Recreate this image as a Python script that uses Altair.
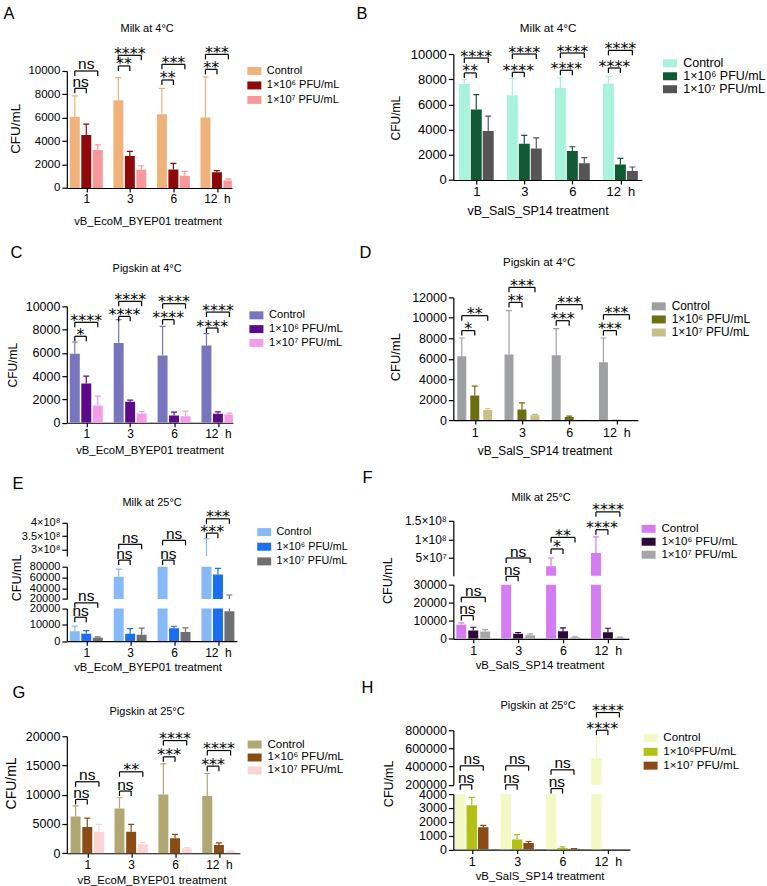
import json
import altair as alt
import pandas as pd

FONT = "Liberation Sans, Arial, Helvetica, sans-serif"
STAR_FONT = "DejaVu Sans, Verdana, sans-serif"

# ------------------------------------------------------------------ data
time_labels = ["1", "3", "6", "12\u00a0\u00a0h"]
doses = ["Control", "1×10⁶ PFU/mL", "1×10⁷ PFU/mL"]
doses_h = ["Control", "1×10⁶PFU/mL", "1×10⁷ PFU/mL"]

ticks_10k = [0, 2000, 4000, 6000, 8000, 10000]
ticks_10k_lab = ["0", "2000", "4000", "6000", "8000", "10000"]
ticks_12k = [0, 2000, 4000, 6000, 8000, 10000, 12000]
ticks_12k_lab = ["0", "2000", "4000", "6000", "8000", "10000", "12000"]
ticks_20k = [0, 5000, 10000, 15000, 20000]
ticks_20k_lab = ["0", "5000", "10000", "15000", "20000"]

# A  Milk at 4 °C, vB_EcoM_BYEP01
a_ctrl, a_ctrl_sd = [6080, 7500, 6300, 6020], [1790, 1930, 2220, 3470]
a_e6, a_e6_sd = [4520, 2730, 1590, 1340], [940, 400, 510, 150]
a_e7, a_e7_sd = [3240, 1560, 1050, 630], [450, 340, 370, 140]
a_sig = [(0, 1, 8520, "ns"), (0, 2, 10000, "ns"), (1, 1, 10430, "**"), (1, 2, 11340, "****"),
         (2, 1, 9230, "**"), (2, 2, 10570, "***"), (3, 1, 10140, "**"), (3, 2, 11420, "***")]

# B  Milk at 4 °C, vB_SalS_SP14
b_ctrl, b_ctrl_sd = [7620, 6730, 7310, 7650], [350, 1320, 790, 580]
b_e6, b_e6_sd = [5590, 2880, 2300, 1240], [1190, 660, 340, 470]
b_e7, b_e7_sd = [3880, 2510, 1320, 710], [1190, 840, 450, 320]
b_sig = [(0, 1, 8500, "**"), (0, 2, 9680, "****"), (1, 1, 8550, "****"), (1, 2, 10000, "****"),
         (2, 1, 8710, "****"), (2, 2, 10080, "****"), (3, 1, 8890, "****"), (3, 2, 10290, "****")]

# C  Pigskin at 4 °C, vB_EcoM_BYEP01
c_ctrl, c_ctrl_sd = [5940, 6860, 5770, 6630], [1000, 2000, 2510, 1030]
c_e6, c_e6_sd = [3370, 1800, 630, 770], [630, 140, 290, 170]
c_e7, c_e7_sd = [1490, 800, 570, 710], [800, 170, 430, 120]
c_sig = [(0, 1, 7430, "*"), (0, 2, 8630, "****"), (1, 1, 9140, "****"), (1, 2, 10430, "****"),
         (2, 1, 8860, "****"), (2, 2, 10230, "****"), (3, 1, 8140, "****"), (3, 2, 9510, "****")]

# D  Pigskin at 4 °C, vB_SalS_SP14
d_ctrl, d_ctrl_sd = [6240, 6410, 6340, 5660], [1790, 4290, 2600, 2370]
d_e6, d_e6_sd = [2410, 1040, 290, 35], [910, 650, 100, 0]
d_e7, d_e7_sd = [980, 460, 35, 10], [130, 100, 0, 0]
d_sig = [(0, 1, 8750, "*"), (0, 2, 10210, "**"), (1, 1, 11510, "**"), (1, 2, 12980, "***"),
         (2, 1, 9720, "***"), (2, 2, 11290, "***"), (3, 1, 8750, "***"), (3, 2, 10310, "***")]

# E  Milk at 25 °C, vB_EcoM_BYEP01 (broken axis: 0-2e4 | 2e4-8e4 | 2.75e8-4e8)
e_ctrl, e_ctrl_sd = [6100, 61500, 200000, 1.2e8], [3100, 14000, 60000, 2.2e8]
e_e6, e_e6_sd = [4500, 4500, 7950, 65700], [2000, 3250, 1200, 11200]
e_e7, e_e7_sd = [2100, 3900, 5700, 18400], [500, 4100, 2450, 9000]
e_sig = [(0, 1, 14700, "ns", 2), (0, 2, 23500, "ns", 2), (1, 1, 92200, "ns", 1), (1, 2, 3.19e8, "ns", 0),
         (2, 1, 92200, "ns", 1), (2, 2, 3.34e8, "ns", 0), (3, 1, 3.61e8, "***", 0), (3, 2, 4.15e8, "***", 0)]
e_top_ticks, e_top_lab = [3e8, 3.5e8, 4e8], ["3×10⁸", "3.5×10⁸", "4×10⁸"]
e_mid_ticks, e_mid_lab = [20000, 40000, 60000, 80000], ["20000", "40000", "60000", "80000"]
e_bot_ticks, e_bot_lab = [0, 10000, 20000], ["0", "10000", "20000"]

# F  Milk at 25 °C, vB_SalS_SP14 (broken axis: 0-3e4 | up to 1.5e8)
f_ctrl, f_ctrl_sd = [7740, 35000, 2.76e7, 6.35e7], [1100, 2000, 2.24e7, 4.35e7]
f_e6, f_e6_sd = [4590, 2760, 4200, 3650], [1820, 720, 1850, 2210]
f_e7, f_e7_sd = [4030, 2000, 720, 550], [1100, 760, 380, 370]
f_sig = [(0, 1, 12870, "ns", 1), (0, 2, 22990, "ns", 1), (1, 1, 34590, "ns", 1), (1, 2, 5.0e7, "ns", 0),
         (2, 1, 7.43e7, "*", 0), (2, 2, 1.054e8, "**", 0), (3, 1, 1.26e8, "****", 0), (3, 2, 1.74e8, "****", 0)]
f_top_ticks, f_top_lab = [5e7, 1e8, 1.5e8], ["5×10⁷", "1×10⁸", "1.5×10⁸"]
f_bot_ticks, f_bot_lab = [0, 10000, 20000, 30000], ["0", "10000", "20000", "30000"]

# G  Pigskin at 25 °C, vB_EcoM_BYEP01
g_ctrl, g_ctrl_sd = [6300, 7670, 10060, 9770], [1800, 1820, 5230, 3860]
g_e6, g_e6_sd = [4490, 3690, 2560, 1420], [1500, 1250, 680, 340]
g_e7, g_e7_sd = [3690, 1530, 800, 280], [1250, 290, 170, 110]
g_sig = [(0, 1, 9200, "ns"), (0, 2, 12220, "ns"), (1, 1, 10630, "ns"), (1, 2, 13920, "**"),
         (2, 1, 16480, "***"), (2, 2, 19260, "****"), (3, 1, 14890, "***"), (3, 2, 17560, "****")]

# H  Pigskin at 25 °C, vB_SalS_SP14 (broken axis: 0-4000 | 2e5-8e5)
h_ctrl, h_ctrl_sd = [4600, 4400, 4200, 489000], [500, 500, 500, 231000]
h_e6, h_e6_sd = [3190, 720, 120, 30], [580, 360, 80, 0]
h_e7, h_e7_sd = [1610, 480, 50, 10], [140, 100, 20, 0]
h_sig = [(0, 1, 200000, "ns", 0), (0, 2, 409000, "ns", 0), (1, 1, 200000, "ns", 0), (1, 2, 409000, "ns", 0),
         (2, 1, 159000, "ns", 0), (2, 2, 365000, "ns", 0), (3, 1, 800000, "****", 0), (3, 2, 995000, "****", 0)]
h_top_ticks, h_top_lab = [200000, 400000, 600000, 800000], ["200000", "400000", "600000", "800000"]
h_bot_ticks, h_bot_lab = [0, 1000, 2000, 3000, 4000], ["0", "1000", "2000", "3000", "4000"]

# ------------------------------------------------------------------ panel styling / placement
LEFT_X, RIGHT_X = 66.5, 454.0      # plot-area left edge of each column

PANELS = {
    "A": dict(title="Milk at 4°C", xtitle="vB_EcoM_BYEP01 treatment", doses=doses,
              colors=["#EFB27A", "#8E0A0A", "#F9989A"],
              mean=[a_ctrl, a_e6, a_e7], sd=[a_ctrl_sd, a_e6_sd, a_e7_sd], sig=a_sig,
              segs=[dict(top=70, h=117.3, dom=(0, 10000), ticks=ticks_10k, labels=ticks_10k_lab)],
              geo=dict(left=LEFT_X, width=165.5, c0=86, c3=217, step=11.5, bw=10, tick_fs=11.5, x_fs=12,
                       leg=(247, 70, 13.5, 11), letter=(3, 18), title=(147, 28, 11),
                       ytitle=(16, 128, 13.5), xtitle=(148, 221, 11.3))),
    "B": dict(title="Milk at 4°C", xtitle="vB_SalS_SP14 treatment", doses=doses,
              colors=["#A9F2DB", "#0F5A33", "#555555"],
              mean=[b_ctrl, b_e6, b_e7], sd=[b_ctrl_sd, b_e6_sd, b_e7_sd], sig=b_sig,
              segs=[dict(top=52.7, h=126.3, dom=(0, 10000), ticks=ticks_10k, labels=ticks_10k_lab)],
              geo=dict(left=RIGHT_X, width=189, c0=477, c3=621.5, step=12, bw=11, tick_fs=13, x_fs=13,
                       leg=(663, 62, 12.5, 12.5), letter=(357, 18), title=(549, 27, 11.7),
                       ytitle=(397, 117, 12), xtitle=(539, 210, 12.5))),
    "C": dict(title="Pigskin at 4°C", xtitle="vB_EcoM_BYEP01 treatment", doses=doses,
              colors=["#7875BE", "#5A0A8A", "#F39DE8"],
              mean=[c_ctrl, c_e6, c_e7], sd=[c_ctrl_sd, c_e6_sd, c_e7_sd], sig=c_sig,
              segs=[dict(top=305, h=116.7, dom=(0, 10000), ticks=ticks_10k, labels=ticks_10k_lab)],
              geo=dict(left=LEFT_X, width=166.5, c0=86, c3=218, step=11.5, bw=10, tick_fs=12.5, x_fs=12,
                       leg=(249, 314, 13, 11.2), letter=(10, 257), title=(147, 268, 11),
                       ytitle=(13, 364, 12), xtitle=(150, 450, 11.3))),
    "D": dict(title="Pigskin at 4°C", xtitle="vB_SalS_SP14 treatment", doses=doses,
              colors=["#9FA0A3", "#6C6E12", "#C9C088"],
              mean=[d_ctrl, d_e6, d_e7], sd=[d_ctrl_sd, d_e6_sd, d_e7_sd], sig=d_sig,
              segs=[dict(top=296, h=123, dom=(0, 12000), ticks=ticks_12k, labels=ticks_12k_lab)],
              geo=dict(left=RIGHT_X, width=185, c0=475.5, c3=617.5, step=13, bw=9, tick_fs=12.5, x_fs=12.5,
                       leg=(652, 305, 12, 11.9), letter=(360, 257), title=(540, 262, 11.5),
                       ytitle=(397, 356, 13), xtitle=(546, 450, 11.9))),
    "E": dict(title="Milk at 25°C", xtitle="vB_EcoM_BYEP01 treatment", doses=doses,
              colors=["#86B9F6", "#1A6EF2", "#6F6F6F"],
              mean=[e_ctrl, e_e6, e_e7], sd=[e_ctrl_sd, e_e6_sd, e_e7_sd], sig=e_sig,
              segs=[dict(top=520.7, h=33.3, dom=(2.75e8, 4e8), ticks=e_top_ticks, labels=e_top_lab),
                    dict(top=563.3, h=32.4, dom=(20000, 80000), ticks=e_mid_ticks, labels=e_mid_lab),
                    dict(top=604, h=32.7, dom=(0, 20000), ticks=e_bot_ticks, labels=e_bot_lab)],
              geo=dict(left=LEFT_X, width=170.5, c0=86, c3=218, step=11.5, bw=10, tick_fs=11, x_fs=12,
                       leg=(257, 530, 13.5, 10.8), letter=(12, 487), title=(152, 501, 11),
                       ytitle=(17, 576, 12.6), xtitle=(148, 666, 11.3))),
    "F": dict(title="Milk at 25°C", xtitle="vB_SalS_SP14 treatment", doses=doses,
              colors=["#D67CF3", "#2C0B3B", "#A6A6A6"],
              mean=[f_ctrl, f_e6, f_e7], sd=[f_ctrl_sd, f_e6_sd, f_e7_sd], sig=f_sig,
              segs=[dict(top=520, h=55, dom=(2.5e6, 1.5e8), ticks=f_top_ticks, labels=f_top_lab),
                    dict(top=584, h=54.3, dom=(0, 30000), ticks=f_bot_ticks, labels=f_bot_lab)],
              geo=dict(left=RIGHT_X, width=176, c0=474, c3=609, step=12, bw=10, tick_fs=12, x_fs=12.5,
                       leg=(642, 528, 11.3, 11.6), letter=(363, 482), title=(542, 497, 11),
                       ytitle=(389, 580, 12.6), xtitle=(541, 666, 11.4))),
    "G": dict(title="Pigskin at 25°C", xtitle="vB_EcoM_BYEP01 treatment", doses=doses,
              colors=["#B1A772", "#8A4B15", "#FBD3D5"],
              mean=[g_ctrl, g_e6, g_e7], sd=[g_ctrl_sd, g_e6_sd, g_e7_sd], sig=g_sig,
              segs=[dict(top=731.7, h=117.3, dom=(0, 20000), ticks=ticks_20k, labels=ticks_20k_lab)],
              geo=dict(left=LEFT_X, width=173.5, c0=87, c3=219, step=11.7, bw=10, tick_fs=12.5, x_fs=12,
                       leg=(247, 740, 11, 11.6), letter=(12, 693), title=(147, 707, 11),
                       ytitle=(12, 779, 14), xtitle=(152, 876.6, 11.4))),
    "H": dict(title="Pigskin at 25°C", xtitle="vB_SalS_SP14 treatment", doses=doses_h,
              colors=["#F2F9C5", "#B3C016", "#8A4B16"],
              mean=[h_ctrl, h_e6, h_e7], sd=[h_ctrl_sd, h_e6_sd, h_e7_sd], sig=h_sig,
              segs=[dict(top=729.3, h=54.7, dom=(200000, 800000), ticks=h_top_ticks, labels=h_top_lab),
                    dict(top=792.7, h=55.6, dom=(0, 4000), ticks=h_bot_ticks, labels=h_bot_lab)],
              geo=dict(left=RIGHT_X, width=177, c0=472.5, c3=609, step=11.5, bw=10.5, tick_fs=12.5, x_fs=12.5,
                       leg=(644, 737, 12.5, 11.6), letter=(362, 692), title=(539, 705, 11),
                       ytitle=(390, 783, 12.6), xtitle=(541, 876.6, 11.4))),
}

ONE = pd.DataFrame({"k": [0]})
SWATCH = "M-1.4,-0.8H1.4V0.8H-1.4Z"


def note(text, x, y, size, font=FONT, angle=0, align="center", baseline="middle"):
    return alt.Chart(ONE).mark_text(
        text=text, font=font, fontSize=size, angle=angle, align=align,
        baseline=baseline, color="black"
    ).encode(x=alt.value(x), y=alt.value(y))


def y_axis(seg, fs):
    expr = "{}[indexof({}, datum.value)]".format(
        json.dumps(seg["labels"], ensure_ascii=False), json.dumps(seg["ticks"]))
    return alt.Axis(values=seg["ticks"], labelExpr=expr, title=None, grid=False,
                    domainColor="black", domainWidth=1.2, tickColor="black", tickWidth=1.2,
                    tickSize=5, labelFont=FONT, labelFontSize=fs, labelColor="black",
                    labelPadding=2, labelOverlap=False, labelFlush=False)


def x_axis(fs):
    expr = "{}[datum.value]".format(json.dumps(time_labels, ensure_ascii=False))
    return alt.Axis(values=[0, 1, 2, 3], labelExpr=expr, title=None, grid=False,
                    domainColor="black", domainWidth=1.2, tickColor="black", tickWidth=1.2,
                    tickSize=4, labelFont=FONT, labelFontSize=fs, labelColor="black",
                    labelPadding=2, labelOverlap=False, labelFlush=False, labelAngle=0)


def panel_cells(letter, p):
    g = p["geo"]
    ppu = (g["c3"] - g["c0"]) / 3.0
    xdom = [(g["left"] - g["c0"]) / ppu, (g["left"] + g["width"] - g["c0"]) / ppu]
    off = [(k - 1) * g["step"] / ppu for k in range(3)]

    rows = []
    for k in range(3):
        for t in range(4):
            m, sd = p["mean"][k][t], p["sd"][k][t]
            rows.append({"dose": p["doses"][k], "xc": t + off[k], "mean": m, "top": m + sd, "sd": sd})
    bars = pd.DataFrame(rows)
    errs = bars[bars["sd"] > 0]

    sig_rows = []
    for s in p["sig"]:
        t, k, yv, lab = s[:4]
        seg = s[4] if len(s) > 4 else 0
        sig_rows.append({"seg": seg, "xa": t + off[0], "xb": t + off[k],
                         "xm": t + (off[0] + off[k]) / 2.0, "yv": yv, "lab": lab})
    sig = pd.DataFrame(sig_rows)

    xs = alt.Scale(domain=xdom, nice=False, zero=False)
    cscale = alt.Scale(domain=p["doses"], range=p["colors"])
    nseg = len(p["segs"])
    cells = []
    for i, seg in enumerate(p["segs"]):
        ys = alt.Scale(domain=list(seg["dom"]), nice=False, zero=False)
        ya = y_axis(seg, g["tick_fs"])
        xa = x_axis(g["x_fs"]) if i == nseg - 1 else None

        def X(f):
            return alt.X(f, type="quantitative", scale=xs, axis=xa)

        def Y(f):
            return alt.Y(f, type="quantitative", scale=ys, axis=ya)

        legend = None
        if i == 0:
            lx, ly, lsp, lfs = g["leg"]
            row_h = max(10.0, lfs)
            legend = alt.Legend(orient="none", legendX=lx - g["left"] + 2,
                                legendY=ly - seg["top"] - row_h / 2.0, title=None,
                                labelFont=FONT, labelFontSize=lfs, labelColor="black",
                                symbolType=SWATCH, symbolSize=100, symbolStrokeWidth=0,
                                symbolOpacity=1, rowPadding=max(0.0, lsp - row_h),
                                labelOffset=7, padding=0)

        layers = [
            alt.Chart(bars).mark_rect(clip=True, xOffset=-g["bw"] / 2.0, x2Offset=g["bw"] / 2.0).encode(
                x=X("xc"), x2=alt.X2("xc"), y=Y("mean"), y2=alt.datum(0),
                color=alt.Color("dose:N", scale=cscale, legend=legend)),
            alt.Chart(errs).mark_rule(clip=True, strokeWidth=1.2).encode(
                x=X("xc"), y=Y("mean"), y2=alt.Y2("top"),
                color=alt.Color("dose:N", scale=cscale, legend=None)),
            alt.Chart(errs).mark_rule(clip=True, strokeWidth=1.2, xOffset=-3, x2Offset=3).encode(
                x=X("xc"), x2=alt.X2("xc"), y=Y("top"),
                color=alt.Color("dose:N", scale=cscale, legend=None)),
        ]

        sg = sig[sig["seg"] == i]
        if len(sg):
            layers += [
                alt.Chart(sg).mark_rule(color="black", strokeWidth=1.2).encode(
                    x=X("xa"), x2=alt.X2("xb"), y=Y("yv")),
                alt.Chart(sg).mark_rule(color="black", strokeWidth=1.2, y2Offset=5).encode(
                    x=X("xa"), y=Y("yv"), y2=alt.Y2("yv")),
                alt.Chart(sg).mark_rule(color="black", strokeWidth=1.2, y2Offset=5).encode(
                    x=X("xb"), y=Y("yv"), y2=alt.Y2("yv")),
            ]
            ns = sg[sg["lab"] == "ns"]
            st = sg[sg["lab"] != "ns"]
            if len(ns):
                layers.append(alt.Chart(ns).mark_text(
                    font=FONT, fontSize=15.5, dy=-1.5, baseline="alphabetic", color="black").encode(
                    x=X("xm"), y=Y("yv"), text="lab:N"))
            if len(st):
                layers.append(alt.Chart(st).mark_text(
                    font=STAR_FONT, fontSize=16, dy=3.5, baseline="alphabetic", color="black").encode(
                    x=X("xm"), y=Y("yv"), text="lab:N"))

        if i == 0:
            ox, oy = g["left"], seg["top"]
            lx, ly = g["letter"]
            tx, ty, tfs = g["title"]
            yx, yy, yfs = g["ytitle"]
            xx, xy, xfs = g["xtitle"]
            layers += [
                note(letter, lx - ox, ly - oy, 16.5, align="left", baseline="alphabetic"),
                note(p["title"], tx - ox, ty - oy, tfs),
                note("CFU/mL", yx - ox, yy - oy, yfs, angle=270),
                note(p["xtitle"], xx - ox, xy - oy, xfs),
            ]

        chart = alt.layer(*layers).properties(width=g["width"], height=seg["h"])
        cells.append(dict(chart=chart, top=seg["top"], h=seg["h"]))
    return cells


def blank(w, h):
    # invisible filler view used only to space the panels apart
    return alt.Chart(ONE).mark_rule(opacity=0, strokeWidth=0).encode(
        x=alt.value(0), y=alt.value(0), y2=alt.value(0)).properties(width=w, height=h)


def column(keys, first_width):
    charts, y, first = [], 0.0, True
    for key in keys:
        for c in panel_cells(key, PANELS[key]):
            if c["top"] - y > 0.05:
                charts.append(blank(first_width if first else 1, c["top"] - y))
                first = False
            charts.append(c["chart"])
            y = c["top"] + c["h"]
    return alt.vconcat(*charts, spacing=0, bounds="flush").resolve_scale(
        color="independent", x="independent", y="independent")


# the left column's first filler reaches x = 356.5 so the right column starts at a known place
left_col = column(["A", "C", "E", "G"], 356.5 - LEFT_X)
right_col = column(["B", "D", "F", "H"], 1)

chart = alt.hconcat(left_col, right_col, spacing=0.5, bounds="full").resolve_scale(
    color="independent", x="independent", y="independent"
).properties(
    padding={"left": 3, "top": 0, "right": 0, "bottom": 8}, background="white"
).configure_view(strokeWidth=0)

chart.save("out.html", embed_options={"renderer": "svg", "actions": False})
